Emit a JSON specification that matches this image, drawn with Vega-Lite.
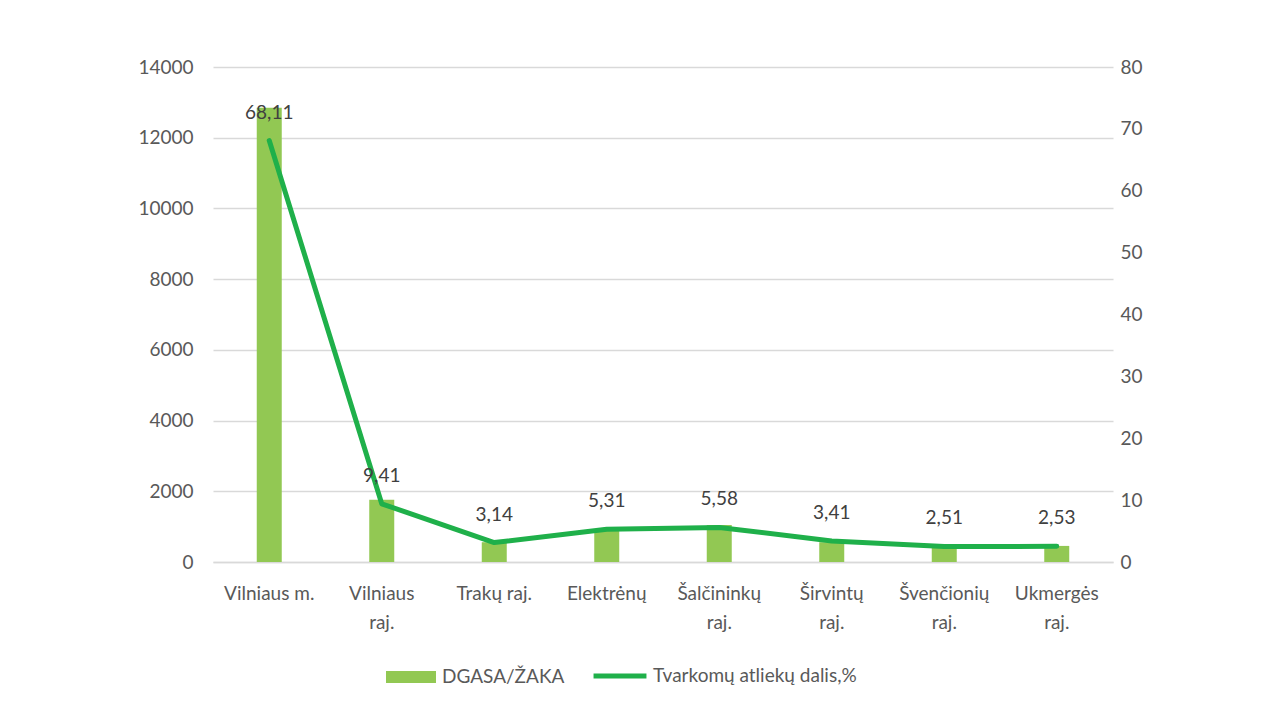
{
  "$schema": "https://vega.github.io/schema/vega-lite/v6.json",
  "autosize": "none",
  "width": 900,
  "height": 495,
  "padding": {"left": 213, "top": 67, "right": 169, "bottom": 151},
  "background": "white",
  "config": {
    "view": {"stroke": null},
    "font": "Lato",
    "axis": {"labelFont": "Lato", "labelColor": "#595959", "labelFontSize": 19, "titleFont": "Lato"},
    "legend": {"labelFont": "Lato", "labelColor": "#595959", "labelFontSize": 19}
  },
  "data": {
    "values": [
      {"savivaldybe": "Vilniaus m.", "dgasa": 12850, "dalis": 68.11, "zyme": "68,11"},
      {"savivaldybe": "Vilniaus|raj.", "dgasa": 1760, "dalis": 9.41, "zyme": "9,41"},
      {"savivaldybe": "Trakų raj.", "dgasa": 560, "dalis": 3.14, "zyme": "3,14"},
      {"savivaldybe": "Elektrėnų", "dgasa": 900, "dalis": 5.31, "zyme": "5,31"},
      {"savivaldybe": "Šalčininkų|raj.", "dgasa": 1050, "dalis": 5.58, "zyme": "5,58"},
      {"savivaldybe": "Širvintų|raj.", "dgasa": 560, "dalis": 3.41, "zyme": "3,41"},
      {"savivaldybe": "Švenčionių|raj.", "dgasa": 440, "dalis": 2.51, "zyme": "2,51"},
      {"savivaldybe": "Ukmergės|raj.", "dgasa": 455, "dalis": 2.53, "zyme": "2,53"}
    ]
  },
  "encoding": {
    "x": {
      "field": "savivaldybe", "type": "nominal", "sort": null, "title": null,
      "scale": {"paddingInner": 0, "paddingOuter": 0},
      "axis": {"labelAngle": 0, "labelExpr": "split(datum.label, '|')", "ticks": false, "domainColor": "#d9d9d9", "domainWidth": 1.5, "labelPadding": 22, "labelLineHeight": 29, "labelBaseline": "top"}
    }
  },
  "layer": [
    {
      "mark": {"type": "bar", "size": 25, "color": "#92c853"},
      "encoding": {
        "y": {
          "field": "dgasa", "type": "quantitative", "title": null,
          "scale": {"domain": [0, 14000], "nice": false},
          "axis": {"values": [0, 2000, 4000, 6000, 8000, 10000, 12000, 14000], "format": "d", "domain": false, "ticks": false, "labelPadding": 20, "gridColor": "#d9d9d9", "gridWidth": 1.5}
        },
        "fill": {
          "datum": "DGASA/ŽAKA", "type": "nominal",
          "scale": {"range": ["#92c853"]},
          "legend": {"title": null, "orient": "none", "legendX": 173, "legendY": 585, "symbolType": "M-1,-0.24H1V0.24H-1Z", "symbolSize": 2500, "symbolStrokeWidth": 0, "padding": 0, "labelOffset": 6}
        }
      }
    },
    {
      "encoding": {
        "y": {
          "field": "dalis", "type": "quantitative", "title": null,
          "scale": {"domain": [0, 80], "nice": false},
          "axis": {"orient": "right", "values": [0, 10, 20, 30, 40, 50, 60, 70, 80], "grid": false, "domain": false, "ticks": false, "labelPadding": 7}
        }
      },
      "layer": [
        {
          "mark": {"type": "line", "strokeWidth": 5, "strokeCap": "round", "strokeJoin": "round"},
          "encoding": {
            "stroke": {
              "datum": "Tvarkomų atliekų dalis,%", "type": "nominal",
              "scale": {"range": ["#1fb04a"]},
              "legend": {"title": null, "orient": "none", "legendX": 378, "legendY": 580, "symbolType": "M-1,0H1", "symbolSize": 2800, "symbolStrokeWidth": 5, "padding": 0, "labelOffset": 4, "labelLimit": 400}
            }
          }
        },
        {
          "mark": {"type": "text", "dy": -28, "fontSize": 19, "color": "#404040", "font": "Lato"},
          "encoding": {
            "text": {"field": "zyme"}
          }
        }
      ]
    }
  ],
  "resolve": {"scale": {"y": "independent", "fill": "independent", "stroke": "independent"}, "legend": {"fill": "independent", "stroke": "independent"}}
}
